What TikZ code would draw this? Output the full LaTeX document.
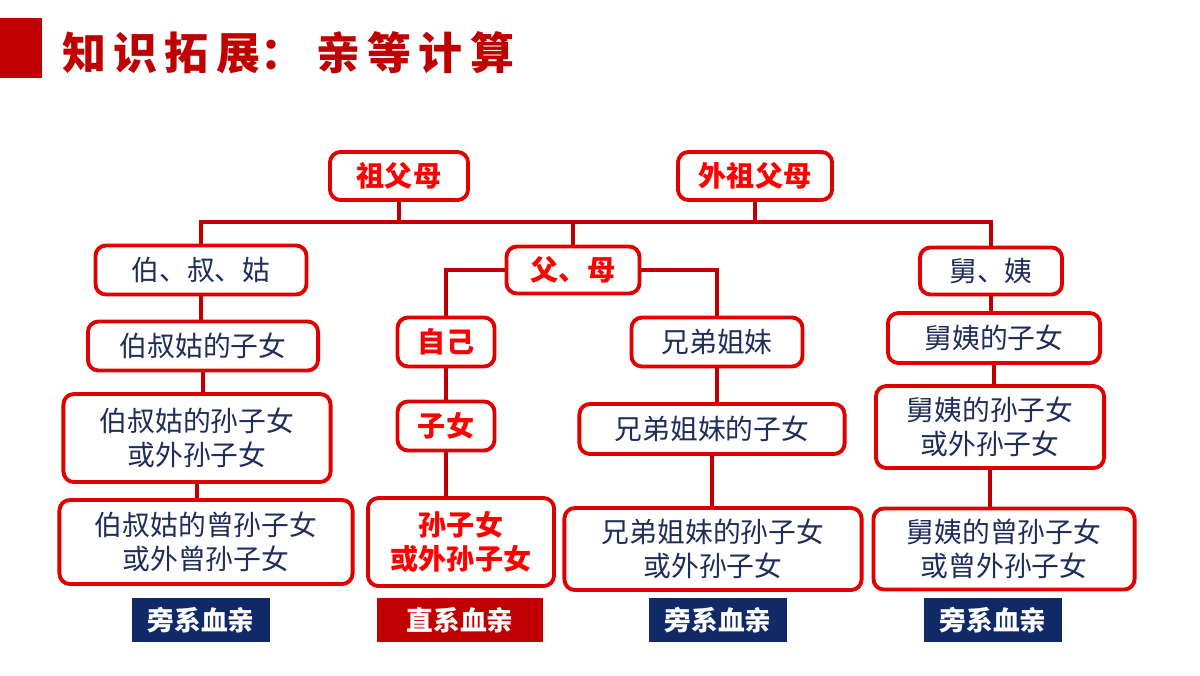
\documentclass[tikz,border=0pt]{standalone}
\usepackage{fontspec}
\setmainfont{Noto Sans CJK SC}
\usetikzlibrary{positioning}
\definecolor{boxred}{HTML}{E00000}
\definecolor{linered}{HTML}{C00000}
\definecolor{navy}{HTML}{1F2D5A}
\definecolor{tagblue}{HTML}{0F2A66}

\begin{document}
\begin{tikzpicture}[x=0.01cm,y=-0.01cm,
font=\fontsize{7.9}{9.6}\selectfont,
box/.style={draw=boxred,line width=1.1pt,rounded corners=3pt,fill=white,text=navy,align=center,inner sep=0pt},
direct/.style={box,text=red,font=\fontsize{8}{9.6}\selectfont\bfseries},
tag/.style={fill=#1,text=white,inner sep=0pt,minimum width=1.37cm,minimum height=0.44cm,font=\fontsize{7.6}{8}\selectfont\bfseries},
link/.style={draw=linered,line width=1.3pt}]
    \useasboundingbox (0,0) rectangle (1200,675);
    % title
    \fill[linered] (0,18) rectangle (42,78);
    \node[anchor=west,text=linered,font=\fontsize{12.5}{13}\selectfont\bfseries] (title) at (50,53) {知\,识\,拓\,展：\;亲\,等\,计\,算};

    % grandparents
    \node[direct,minimum width=1.38cm,minimum height=0.48cm] (gp) at (399,176) {祖父母};
    \node[direct,minimum width=1.54cm,minimum height=0.48cm] (mgp) at (755,176) {外祖父母};

    % row of parents
    \node[box,minimum width=2.11cm,minimum height=0.49cm] (uncle) at (201,270) {伯、叔、姑};
    \node[direct,minimum width=1.33cm,minimum height=0.47cm] (par) at (573,270) {父、母};
    \node[box,minimum width=1.42cm,minimum height=0.47cm] (muncle) at (991,271) {舅、姨};

    % left column
    \node[box,minimum width=2.30cm,minimum height=0.49cm] (u1) at (203,346) {伯叔姑的子女};
    \node[box,minimum width=2.67cm,minimum height=0.88cm] (u2) at (197,438) {伯叔姑的孙子女\\或外孙子女};
    \node[box,minimum width=2.93cm,minimum height=0.84cm] (u3) at (206,542) {伯叔姑的曾孙子女\\或外曾孙子女};

    % direct line
    \node[direct,minimum width=0.97cm,minimum height=0.49cm] (self) at (446,342) {自己};
    \node[direct,minimum width=0.97cm,minimum height=0.49cm] (kid) at (446,426) {子女};
    \node[direct,minimum width=1.86cm,minimum height=0.88cm] (gkid) at (461,542) {孙子女\\或外孙子女};

    % siblings
    \node[box,minimum width=1.71cm,minimum height=0.49cm] (sib) at (717,342) {兄弟姐妹};
    \node[box,minimum width=2.65cm,minimum height=0.50cm] (s1) at (712,429) {兄弟姐妹的子女};
    \node[box,minimum width=2.97cm,minimum height=0.82cm] (s2) at (713,549) {兄弟姐妹的孙子女\\或外孙子女};

    % right column
    \node[box,minimum width=2.12cm,minimum height=0.50cm] (m1) at (994,338) {舅姨的子女};
    \node[box,minimum width=2.28cm,minimum height=0.82cm] (m2) at (990,427) {舅姨的孙子女\\或外孙子女};
    \node[box,minimum width=2.61cm,minimum height=0.81cm] (m3) at (1004,549) {舅姨的曾孙子女\\或曾外孙子女};

    % tags
    \node[tag=tagblue] (t1) at (201,620) {旁系血亲};
    \node[tag=linered,minimum width=1.66cm] (t2) at (460,620) {直系血亲};
    \node[tag=tagblue] (t3) at (718,620) {旁系血亲};
    \node[tag=tagblue] (t4) at (993,620) {旁系血亲};

    % connectors
    \coordinate (bar) at (0,222);
    \draw[link] (gp.south) -- (gp.south |- bar);
    \draw[link] (mgp.south) -- (mgp.south |- bar);
    \draw[link] (uncle.north) |- (muncle.north |- bar) -- (muncle.north);
    \draw[link] (par.north |- bar) -- (par.north);
    \draw[link] (par.west) -| (self.north);
    \draw[link] (par.east) -| (sib.north);
    \foreach \a/\b in {uncle/u1,u1/u2,u2/u3,self/kid,kid/gkid,sib/s1,s1/s2,muncle/m1,m1/m2,m2/m3}
        \draw[link] (\a.south) -- (\a.south |- \b.north);
\end{tikzpicture}
\end{document}
